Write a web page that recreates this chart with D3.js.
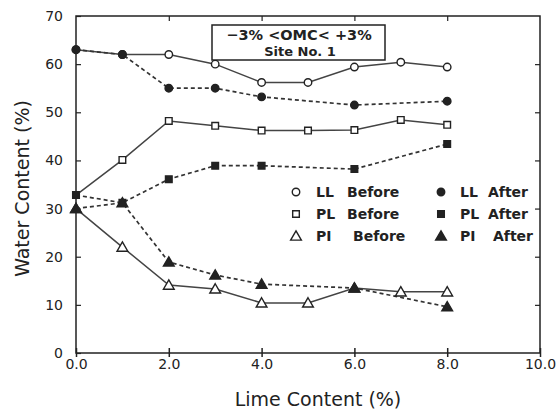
<!DOCTYPE html>
<html>
<head>
<meta charset="utf-8">
<script src="https://cdn.jsdelivr.net/npm/d3@7"></script>
<style>
  html, body { margin: 0; padding: 0; background: #fff; }
  svg { display: block; }
  text { font-family: "DejaVu Sans", sans-serif; fill: #222; }
</style>
</head>
<body>
<svg id="chart" width="557" height="413"></svg>
<script>
// Lime content (%) at which each series was measured
const limeBefore = [0, 1, 2, 3, 4, 5, 6, 7, 8];
const limeAfter = [0, 1, 2, 3, 4, 6, 8];

// Atterberg limits, water content (%)
const llBefore = [63, 62, 62, 60, 56.2, 56.2, 59.4, 60.4, 59.4];
const plBefore = [32.8, 40.1, 48.2, 47.2, 46.2, 46.2, 46.3, 48.4, 47.4];
const piBefore = [30, 22, 14.1, 13.3, 10.4, 10.4, 13.5, 12.7, 12.7];
const llAfter = [63, 62, 55, 55, 53.2, 51.5, 52.3];
const plAfter = [32.8, 31.2, 36.1, 38.9, 38.9, 38.2, 43.4];
const piAfter = [30, 31.2, 18.9, 16.2, 14.3, 13.5, 9.6];

const xTicks = [0, 2, 4, 6, 8, 10];
const yTicks = [0, 10, 20, 30, 40, 50, 60, 70];
const titleLines = ["\u22123%  <OMC<  +3%", "Site  No.  1"];

const ink = "#222";
const svg = d3.select("#chart");
const x = d3.scaleLinear().domain([0, 10]).range([76, 540]);
const y = d3.scaleLinear().domain([0, 70]).range([353, 16]);

// Frame
svg.append("rect")
  .attr("x", x(0)).attr("y", y(70))
  .attr("width", x(10) - x(0)).attr("height", y(0) - y(70))
  .attr("fill", "none").attr("stroke", ink).attr("stroke-width", 1.5);

// Bottom axis: ticks crossing the line
const xAxis = svg.append("g").attr("transform", `translate(0,${y(0)})`)
  .call(d3.axisBottom(x).tickValues(xTicks).tickSize(4).tickFormat(d3.format(".1f")));
xAxis.select(".domain").remove();
xAxis.selectAll(".tick line").attr("y1", -5).attr("stroke", ink).attr("stroke-width", 1.5);
xAxis.selectAll(".tick text").attr("dy", "0.95em").attr("y", 3)
  .style("font-size", "14px").style("font-family", "DejaVu Sans, sans-serif").attr("fill", ink);

// Left axis: ticks crossing the line
const yAxis = svg.append("g").attr("transform", `translate(${x(0)},0)`)
  .call(d3.axisLeft(y).tickValues(yTicks).tickSize(5).tickFormat(d3.format("d")));
yAxis.select(".domain").remove();
yAxis.selectAll(".tick line").attr("x2", 5).attr("stroke", ink).attr("stroke-width", 1.2);
yAxis.selectAll(".tick text").attr("x", -13)
  .style("font-size", "14px").style("font-family", "DejaVu Sans, sans-serif").attr("fill", ink);

// Top and right axes: inward ticks only
const xTop = svg.append("g").attr("transform", `translate(0,${y(70)})`)
  .call(d3.axisBottom(x).tickValues(xTicks.slice(1, -1)).tickSize(5).tickFormat(""));
xTop.select(".domain").remove();
xTop.selectAll(".tick line").attr("stroke", ink).attr("stroke-width", 1.2);
const yRight = svg.append("g").attr("transform", `translate(${x(10)},0)`)
  .call(d3.axisLeft(y).tickValues(yTicks.slice(1, -1)).tickSize(5).tickFormat(""));
yRight.select(".domain").remove();
yRight.selectAll(".tick line").attr("stroke", ink).attr("stroke-width", 1.2);

// Axis titles
svg.append("text").attr("x", (x(0) + x(10)) / 2 + 10).attr("y", 406)
  .attr("text-anchor", "middle").style("font-size", "19px").text("Lime Content  (%)");
svg.append("text").attr("transform", `translate(29,${y(35) + 4}) rotate(-90)`)
  .attr("text-anchor", "middle").style("font-size", "19px").text("Water  Content  (%)");

// Series lines
const line = d3.line().x(d => x(d[0])).y(d => y(d[1]));
const zipped = (xs, ys) => xs.map((v, i) => [v, ys[i]]);
const series = [
  { xs: limeBefore, ys: llBefore, shape: "circle", filled: false },
  { xs: limeBefore, ys: plBefore, shape: "square", filled: false },
  { xs: limeBefore, ys: piBefore, shape: "triangle", filled: false },
  { xs: limeAfter, ys: llAfter, shape: "circle", filled: true },
  { xs: limeAfter, ys: plAfter, shape: "square", filled: true },
  { xs: limeAfter, ys: piAfter, shape: "triangle", filled: true }
];

series.forEach(s => {
  svg.append("path").datum(zipped(s.xs, s.ys))
    .attr("d", line).attr("fill", "none")
    .attr("stroke", s.filled ? "#333" : "#444")
    .attr("stroke-width", s.filled ? 1.7 : 1.5)
    .attr("stroke-dasharray", s.filled ? "4,3" : null);
});

const symbolFor = {
  circle: d3.symbol().type(d3.symbolCircle).size(44),
  square: d3.symbol().type(d3.symbolSquare).size(44),
  triangle: d3.symbol().type(d3.symbolTriangle).size(50)
};

function drawMarker(g, shape, filled, cx, cy) {
  g.append("path")
    .attr("d", symbolFor[shape]())
    .attr("transform", `translate(${cx},${cy + (shape === "triangle" ? 1 : 0)})`)
    .attr("fill", filled ? ink : "#fff")
    .attr("stroke", ink).attr("stroke-width", 1.4);
}

const markers = svg.append("g");
series.forEach(s => {
  zipped(s.xs, s.ys).forEach(d => drawMarker(markers, s.shape, s.filled, x(d[0]), y(d[1])));
});

// Legend
const legendRows = [
  { shape: "circle", code: "LL" },
  { shape: "square", code: "PL" },
  { shape: "triangle", code: "PI" }
];
const legend = svg.append("g").style("font-size", "14px").style("font-weight", "bold");
legendRows.forEach((r, i) => {
  const ly = 197 + i * 22;
  drawMarker(legend, r.shape, false, 296, ly - 5);
  drawMarker(legend, r.shape, true, 441, ly - 5);
  legend.append("text").attr("x", 316).attr("y", ly).text(r.code);
  legend.append("text").attr("x", r.code === "PI" ? 353 : 347).attr("y", ly).text("Before");
  legend.append("text").attr("x", 460).attr("y", ly).text(r.code);
  legend.append("text").attr("x", r.code === "PI" ? 493 : 488).attr("y", ly).text("After");
});

// Title box
const box = svg.append("g");
box.append("rect").attr("x", 212).attr("y", 25).attr("width", 173).attr("height", 35)
  .attr("fill", "#fff").attr("stroke", ink).attr("stroke-width", 1.5);
box.append("text").attr("x", 299).attr("y", 40).attr("text-anchor", "middle")
  .style("font-size", "14.5px").style("font-weight", "bold").text(titleLines[0]);
box.append("text").attr("x", 300).attr("y", 56).attr("text-anchor", "middle")
  .style("font-size", "13px").style("font-weight", "bold").text(titleLines[1]);
</script>
</body>
</html>
